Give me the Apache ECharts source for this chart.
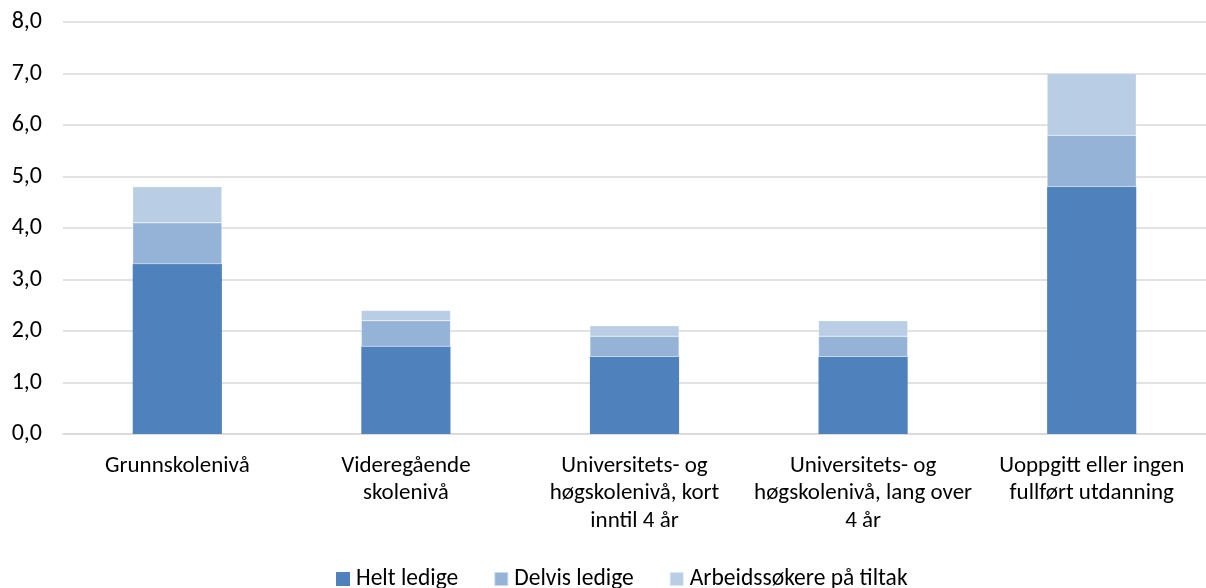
<!DOCTYPE html>
<html>
<head>
<meta charset="utf-8">
<script src="https://cdn.jsdelivr.net/npm/echarts@6/dist/echarts.min.js"></script>
<style>html,body{margin:0;padding:0;background:#fff}#c{width:1206px;height:588px}</style>
</head>
<body>
<div id="c"></div>
<script>
const categories = ["Grunnskolenivå", "Videregående\nskolenivå", "Universitets- og\nhøgskolenivå, kort\ninntil 4 år", "Universitets- og\nhøgskolenivå, lang over\n4 år", "Uoppgitt eller ingen\nfullført utdanning"];
const seriesNames = ["Helt ledige", "Delvis ledige", "Arbeidssøkere på tiltak"];
const heltLedige = [3.3, 1.7, 1.5, 1.5, 4.8];
const delvisLedige = [0.8, 0.5, 0.4, 0.4, 1.0];
const tiltak = [0.7, 0.2, 0.2, 0.3, 1.2];
const colors = ["#4F81BD", "#95B3D7", "#B9CDE5"];
const font = "Carlito, Lato, 'Liberation Sans', sans-serif";

const chart = echarts.init(document.getElementById('c'), null, {renderer: 'canvas'});
const values = [heltLedige, delvisLedige, tiltak];
chart.setOption({
  animation: false,
  textStyle: {fontFamily: font},
  grid: {left: 63, right: 0, top: 22, bottom: 154},
  legend: {
    top: 562, left: 331,
    itemWidth: 14, itemHeight: 14, itemGap: 35,
    icon: 'rect',
    textStyle: {fontSize: 23.5, color: '#000', fontFamily: font, padding: [0, 0, 0, 1]},
    data: seriesNames
  },
  xAxis: {
    type: 'category', data: categories,
    axisLine: {show: true, lineStyle: {color: '#d9d9d9', width: 1.5}},
    axisTick: {show: false},
    axisLabel: {fontSize: 23, color: '#000', lineHeight: 27.5, margin: 18, interval: 0, fontFamily: font}
  },
  yAxis: {
    type: 'value', min: 0, max: 8, interval: 1,
    axisLine: {show: false}, axisTick: {show: false},
    splitLine: {lineStyle: {color: '#d9d9d9', width: 1.5}},
    axisLabel: {fontSize: 24, color: '#000', margin: 21, fontFamily: font,
      formatter: v => v.toFixed(1).replace('.', ',')}
  },
  series: seriesNames.map((n, i) => ({
    name: n, type: 'bar', stack: 'total', data: values[i],
    barWidth: '39%',
    itemStyle: {color: colors[i], borderColor: 'rgba(255,255,255,0.5)', borderWidth: i === 0 ? 0 : 0.5}
  }))
});
</script>
</body>
</html>
